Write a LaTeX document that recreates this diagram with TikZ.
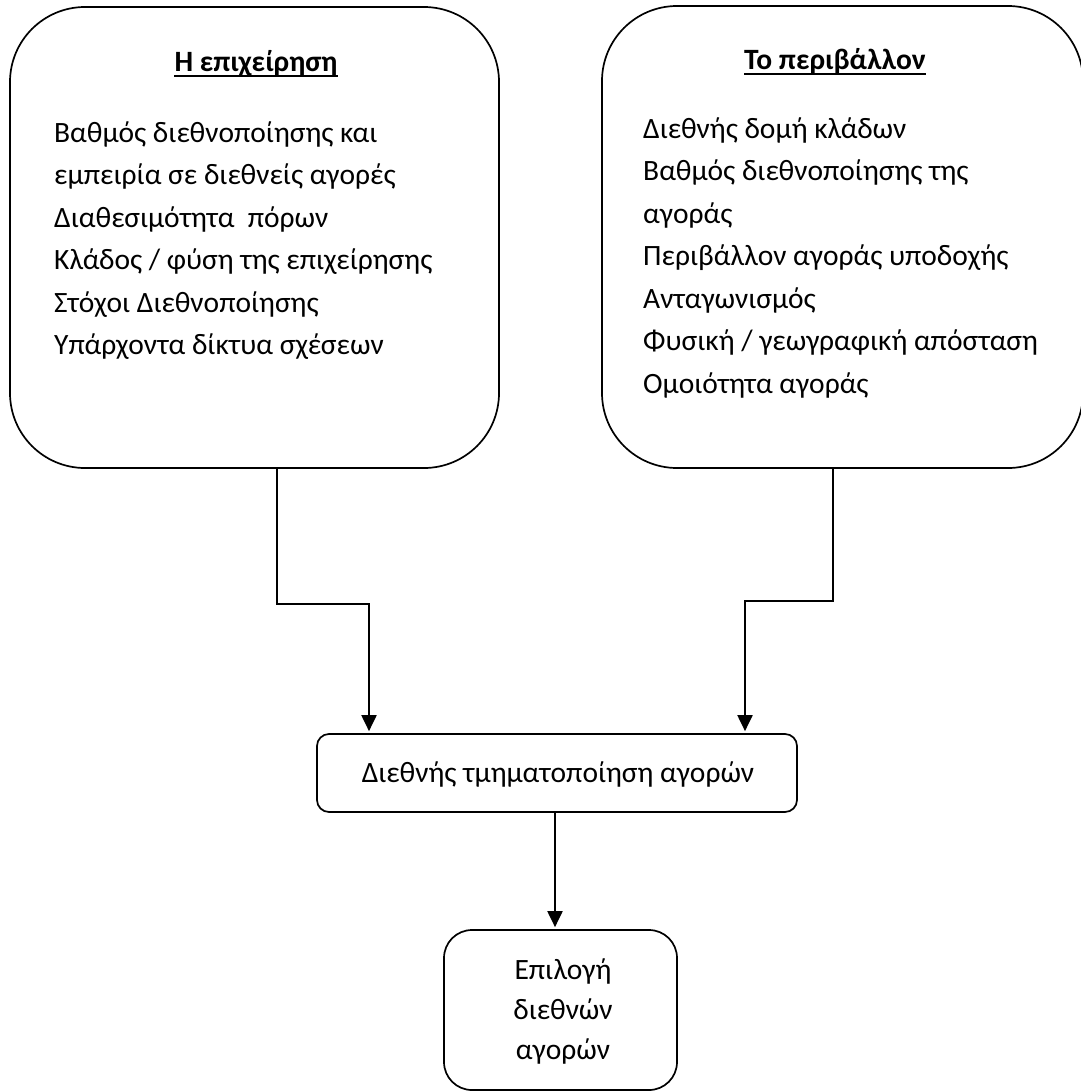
\documentclass[tikz,border=0pt]{standalone}
\usepackage{fontspec}
\setmainfont{Carlito}
\usetikzlibrary{arrows.meta, positioning}

\begin{document}
\begin{tikzpicture}[x=1pt, y=-1pt,
  every node/.style={font=\fontsize{29.5}{42.5}\selectfont, inner sep=0pt},
  bigbox/.style={draw, line width=1.7pt, rounded corners=75pt},
  smallbox/.style={draw, line width=1.7pt, rounded corners=#1},
  item/.style={anchor=base west},
  ttl/.style={anchor=base, font=\fontsize{29.5}{42.5}\selectfont\bfseries},
  uline/.style={line width=1.8pt},
  arr/.style={-{Triangle[length=16pt, width=15pt]}, line width=2pt, shorten >=2pt}
]
  \useasboundingbox (0,0) rectangle (1081,1092);

  % the two upper boxes
  \node[bigbox, minimum width=489pt, minimum height=461pt] (firm) at (254.5,237.5) {};
  \node[bigbox, minimum width=481pt, minimum height=462pt] (env) at (842.5,237) {};

  \node[ttl] (firmttl) at (256,71) {Η επιχείρηση};
  \node[ttl] (envttl) at (835,69) {Το περιβάλλον};
  \draw[uline] ([yshift=-5pt]firmttl.base west) -- ([yshift=-5pt]firmttl.base east);
  \draw[uline] ([yshift=-5pt]envttl.base west) -- ([yshift=-5pt]envttl.base east);

  \foreach \t [count=\i] in {Βαθμός διεθνοποίησης και,
      εμπειρία σε διεθνείς αγορές, Διαθεσιμότητα\ \ πόρων,
      Κλάδος / φύση της επιχείρησης, Στόχοι Διεθνοποίησης,
      Υπάρχοντα δίκτυα σχέσεων}
    \node[item] (f\i) at (54,{142+42.5*(\i-1)}) {\t};

  \foreach \t [count=\i] in {Διεθνής δομή κλάδων,
      Βαθμός διεθνοποίησης της, αγοράς,
      Περιβάλλον αγοράς υποδοχής, Ανταγωνισμός,
      Φυσική / γεωγραφική απόσταση, Ομοιότητα αγοράς}
    \node[item] (e\i) at (643,{138+42.5*(\i-1)}) {\t};

  % segmentation and selection
  \node[smallbox=12pt, minimum width=480pt, minimum height=78pt] (seg) at (557,773) {};
  \node[anchor=base] (segtxt) at (558,782) {Διεθνής τμηματοποίηση αγορών};

  \node[smallbox=28pt, minimum width=233pt, minimum height=160pt] (sel) at (560.5,1010) {};
  \foreach \t [count=\i] in {Επιλογή, διεθνών, αγορών}
    \node[anchor=base] (s\i) at (563,{979+40*(\i-1)}) {\t};

  \draw[arr] ([xshift=22.5pt]firm.south) -- ++(0,135) -| ([xshift=-188pt]seg.north);
  \draw[arr] ([xshift=-9.5pt]env.south) -- ++(0,132) -| ([xshift=188pt]seg.north);
  \draw[arr] ([xshift=-2pt]seg.south) -- ([xshift=-2pt]seg.south |- sel.north);
\end{tikzpicture}
\end{document}
